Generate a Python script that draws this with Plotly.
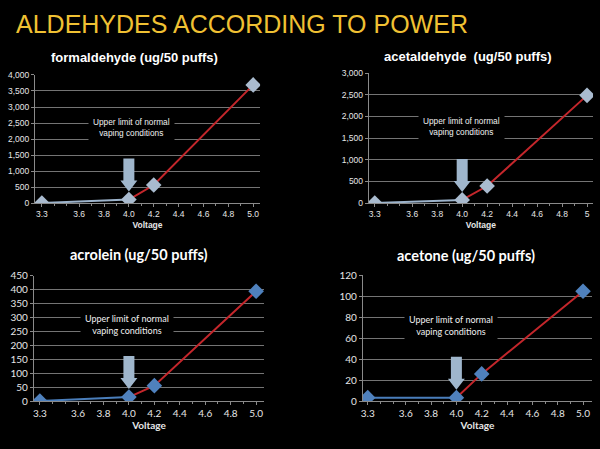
import plotly.graph_objects as go

W, H = 600, 449

voltage = [3.3, 4.0, 4.2, 5.0]
formaldehyde = [5, 110, 565, 3690]
acetaldehyde = [5, 75, 395, 2485]
acrolein = [1, 15, 56, 395]
acetone = [3.4, 3.4, 26, 104.6]

x_ticks = [3.3, 3.6, 3.8, 4.0, 4.2, 4.4, 4.6, 4.8, 5.0]
x_labels_a = ["3.3", "3.6", "3.8", "4.0", "4.2", "4.4", "4.6", "4.8", "5.0"]
x_labels_b = ["3.3", "3.6", "3.8", "4.0", "4.2", "4.4", "4.6", "4.8", "5"]

titles = ["formaldehyde (ug/50 puffs)", "acetaldehyde  (ug/50 puffs)",
          "acrolein (ug/50 puffs)", "acetone (ug/50 puffs)"]
main_title = "ALDEHYDES ACCORDING TO POWER"
note = "Upper limit of normal<br>vaping conditions"


def px(x):
    return x / W


def py(y):
    return 1 - y / H


panels = [
    dict(data=formaldehyde, xd=(33, 259), yd=(70, 202), xr=[3.244, 5.056], yr=[0, 4000], dt=500,
         labels=x_labels_a, title_xy=(133, 52), note_xy=(130, 124), top=True, tfmt=","),
    dict(data=acetaldehyde, xd=(368, 593), yd=(68, 202), xr=[3.252, 5.048], yr=[0, 3000], dt=500,
         labels=x_labels_b, title_xy=(468, 51), note_xy=(461, 123), top=True, tfmt=","),
    dict(data=acrolein, xd=(32, 263), yd=(277, 406), xr=[3.253, 5.063], yr=[0, 450], dt=50,
         labels=x_labels_a, title_xy=(137, 255), note_xy=(125, 327), top=False, tfmt=""),
    dict(data=acetone, xd=(362, 592), yd=(276, 406), xr=[3.261, 5.071], yr=[0, 120], dt=20,
         labels=x_labels_a, title_xy=(466, 256), note_xy=(450, 328), top=False, tfmt=""),
]

fig = go.Figure()
annotations = []
shapes = []

for i, p in enumerate(panels, start=1):
    xa = "x" if i == 1 else f"x{i}"
    ya = "y" if i == 1 else f"y{i}"
    top = p["top"]
    blue = "#9db4cc" if top else "#4a7ebb"
    marker_col = "#a9bbcf" if top else "#4f81bd"
    tick_font = dict(family="Liberation Sans, Arial", size=8.5, color="#e6e6e6") if top \
        else dict(family="Lato, Open Sans, sans-serif", size=10, color="#e6e6e6")
    d = p["data"]
    fig.add_trace(go.Scatter(x=voltage[:2], y=d[:2], mode="lines", line=dict(color=blue, width=2),
                             xaxis=xa, yaxis=ya, showlegend=False, hoverinfo="skip"))
    fig.add_trace(go.Scatter(x=voltage[1:], y=d[1:], mode="lines", line=dict(color="#c3262b", width=2),
                             xaxis=xa, yaxis=ya, showlegend=False, hoverinfo="skip"))
    fig.add_trace(go.Scatter(x=voltage, y=d, mode="markers",
                             marker=dict(symbol="diamond", size=12, color=marker_col,
                                         line=dict(width=0)),
                             xaxis=xa, yaxis=ya, showlegend=False))

    xkey = "xaxis" if i == 1 else f"xaxis{i}"
    ykey = "yaxis" if i == 1 else f"yaxis{i}"
    x0, x1 = p["xd"]
    y0, y1 = p["yd"]
    fig.layout[xkey] = dict(
        domain=[px(x0), px(x1)], range=p["xr"], anchor=ya,
        tickvals=x_ticks, ticktext=p["labels"], tickfont=tick_font,
        showgrid=False, zeroline=False, showline=True, linecolor="#8a8a8a", linewidth=1,
        ticks="outside", ticklen=3, tickcolor="#8a8a8a",
        minor=dict(dtick=0.1, tick0=3.3, ticks="outside", ticklen=2, tickcolor="#8a8a8a", showgrid=False),
        title=dict(text="<b>Voltage</b>", standoff=3,
                   font=dict(family=tick_font["family"], size=8.5 if top else 10, color="#e6e6e6")),
    )
    fig.layout[ykey] = dict(
        domain=[py(y1), py(y0)], range=p["yr"], anchor=xa, dtick=p["dt"], tick0=0,
        tickformat=p["tfmt"], tickfont=tick_font,
        showgrid=True, gridcolor="#747474", gridwidth=1, zeroline=False,
        showline=True, linecolor="#8a8a8a", linewidth=1,
        ticks="outside", ticklen=3, tickcolor="#8a8a8a",
    )

    tx, ty = p["title_xy"]
    annotations.append(dict(
        text=f"<b>{titles[i-1]}</b>", x=px(tx), y=py(ty), xref="paper", yref="paper",
        xanchor="center", yanchor="middle", showarrow=False,
        font=dict(family="Liberation Sans, Arial", size=13, color="white") if top
        else dict(family="Lato, Open Sans, sans-serif", size=14.5, color="white")))

    nx, ny = p["note_xy"]
    annotations.append(dict(
        text=note, x=px(nx), y=py(ny), xref="paper", yref="paper",
        xanchor="center", yanchor="middle", showarrow=False, bgcolor="black", borderpad=4,
        font=dict(family="Liberation Sans, Arial", size=8.3, color="#f0f0f0") if top
        else dict(family="Lato, Open Sans, sans-serif", size=9, color="#f0f0f0")))

    shapes.append(dict(
        type="path", xref=xa, yref=ya, xsizemode="pixel", ysizemode="pixel",
        xanchor=voltage[1], yanchor=d[1],
        path="M -5.5 41 L 5.5 41 L 5.5 19 L 8.5 19 L 0 8 L -8.5 19 L -5.5 19 Z",
        fillcolor="#9fb6cc", line=dict(width=0), layer="above"))

annotations.append(dict(
    text=main_title, x=px(12), y=py(17), xref="paper", yref="paper",
    xanchor="left", yanchor="middle", showarrow=False,
    font=dict(family="Liberation Sans, Arial", size=25, color="#f0c133")))

fig.update_layout(
    width=W, height=H, margin=dict(l=0, r=0, t=0, b=0),
    paper_bgcolor="black", plot_bgcolor="black",
    annotations=annotations, shapes=shapes, showlegend=False,
)

fig.write_html("out.html", config={"displayModeBar": False},
               post_script="document.body.style.margin='0';document.body.style.background='black';"
                           "document.documentElement.style.overflow='hidden';")
